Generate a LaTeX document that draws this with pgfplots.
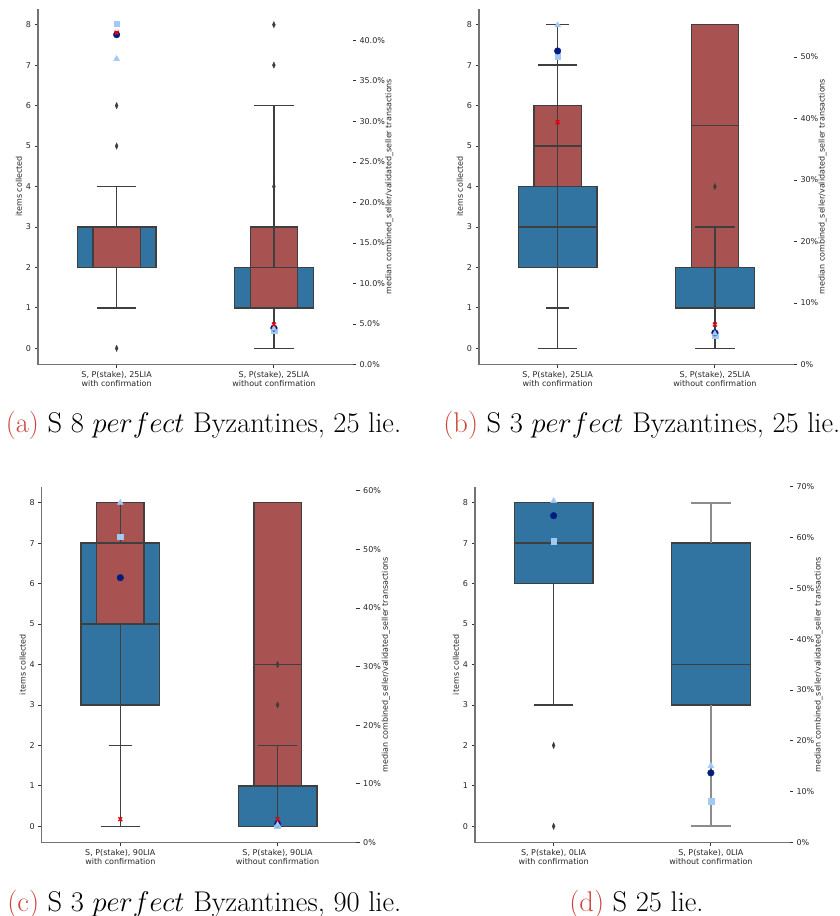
\RequirePackage{fix-cm}
\documentclass[border=0pt]{standalone}
\usepackage{fontspec}
\usepackage{pgfplots}
\pgfplotsset{compat=1.18}
\usepgfplotslibrary{statistics}
\newfontfamily\dejavu{DejaVu Sans}
\newcommand{\tf}{\dejavu\fontsize{8}{9.3}\selectfont}
\definecolor{sbblue}{RGB}{50,116,161}
\definecolor{sbred}{RGB}{168,82,82}
\definecolor{edgegray}{RGB}{63,63,63}
\definecolor{fliergray}{RGB}{61,61,61}
\definecolor{pastelblue}{RGB}{161,201,244}
\definecolor{darkblue}{RGB}{0,28,127}
\definecolor{brightred}{RGB}{232,0,11}
\definecolor{caprd}{RGB}{205,70,60}
\pgfplotsset{
  base/.style={scale only axis, width=314.5pt, height=356pt, anchor=south west,
    xmin=-0.5, xmax=1.5, clip=false,
    tick align=outside, major tick length=3.5pt,
    tick style={black!80, line width=0.8pt},
    tick label style={font=\tf, color=black!85},
    label style={font=\tf, color=black!85},
    /pgf/number format/assume math mode=true},
  leftax/.style={base, ymin=-0.4, ymax=8.4,
    boxplot/draw direction=y,
    axis x line*=bottom, axis y line*=left,
    axis line style={-, draw=black!55, line width=1.2pt},
    ytick={0,1,2,3,4,5,6,7,8}, xtick={0,1},
    xticklabel style={align=center},
    ylabel={items collected},
    ylabel style={at={(axis description cs:-0.0604,0.5)}, anchor=center}},
  rightax/.style={base, ymin=0, hide x axis,
    axis y line*=right, y axis line style={draw=none},
    ylabel={median combined\_seller/validated\_seller transactions},
    ylabel style={anchor=center}},
  % pass 1: box patches only (matplotlib draws patches below lines)
  boxpass/.style={draw=edgegray, line width=1.3pt, solid, mark=none,
    boxplot/every whisker/.style={draw=none},
    boxplot/every median/.style={draw=none}},
  bfill/.style={boxpass, fill=sbblue},
  rfill/.style={boxpass, fill=sbred},
  % pass 2: whiskers, caps, medians and fliers
  lines/.style={draw=edgegray, fill=none, line width=1.3pt, solid,
    boxplot/every box/.style={draw=none, fill=none},
    mark=diamond*, mark size=2.8pt,
    mark options={fill=fliergray, draw=fliergray, line width=0.3pt, xscale=0.7, yscale=1.15}},
  msq/.style={only marks, mark=square*, mark size=2.9pt, color=pastelblue},
  mci/.style={only marks, mark=*, mark size=3.3pt, color=darkblue},
  mtr/.style={only marks, mark=triangle*, mark size=3.4pt, color=pastelblue},
  mx/.style={only marks, mark=x, mark size=2.7pt, color=brightred, line width=1.4pt},
}
% #1 style, #2 position, #3 lower whisker, #4 lower quartile, #5 median,
% #6 upper quartile, #7 upper whisker, #8 box width, #9 cap width
\newcommand{\BP}[9]{\addplot[#1, boxplot prepared={draw position=#2, lower whisker=#3,
  lower quartile=#4, median=#5, upper quartile=#6, upper whisker=#7,
  box extend=#8, whisker extend=#9}]}
\begin{document}
\begin{tikzpicture}
\path[use as bounding box] (0,0) rectangle (840pt,-916pt);
% ================= (a)
\begin{axis}[leftax, at={(38pt,-364.5pt)},
  xticklabels={{S, P(stake), 25LIA\\with confirmation},{S, P(stake), 25LIA\\without confirmation}}]
\BP{bfill}{0}{1}{2}{2}{3}{4}{0.5}{0.25} coordinates {};
\BP{bfill}{1}{0}{1}{2}{2}{3}{0.5}{0.25} coordinates {};
\BP{rfill}{0}{1}{2}{2}{3}{4}{0.3}{0.15} coordinates {};
\BP{rfill}{1}{0}{1}{2}{3}{6}{0.3}{0.25} coordinates {};
\BP{lines}{0}{1}{2}{2}{3}{4}{0.5}{0.25} table[row sep=\\, y index=0] {data\\0\\5\\6\\};
\BP{lines}{1}{0}{1}{2}{2}{3}{0.5}{0.25} table[row sep=\\, y index=0] {data\\4\\};
\BP{lines}{0}{1}{2}{2}{3}{4}{0.3}{0.15} coordinates {};
\BP{lines}{1}{0}{1}{2}{3}{6}{0.3}{0.25} table[row sep=\\, y index=0] {data\\7\\8\\};
\end{axis}
\begin{axis}[rightax, at={(38pt,-364.5pt)}, ymax=43.93,
  ytick={0,5,10,15,20,25,30,35,40},
  yticklabels={0.0\%,5.0\%,10.0\%,15.0\%,20.0\%,25.0\%,30.0\%,35.0\%,40.0\%},
  ylabel style={at={(axis description cs:1.117,0.5)}}]
\addplot[msq] coordinates {(0,42.06) (1,4.2)};
\addplot[mci] coordinates {(0,40.7) (1,4.5)};
\addplot[mtr] coordinates {(0,37.7) (1,4.4)};
\addplot[mx] coordinates {(0,40.95) (1,4.94)};
\end{axis}
% ================= (b)
\begin{axis}[leftax, at={(479pt,-364.5pt)},
  xticklabels={{S, P(stake), 25LIA\\with confirmation},{S, P(stake), 25LIA\\without confirmation}}]
\BP{bfill}{0}{0}{2}{3}{4}{7}{0.5}{0.25} coordinates {};
\BP{bfill}{1}{0}{1}{2}{2}{3}{0.5}{0.25} coordinates {};
\BP{rfill}{0}{1}{4}{5}{6}{8}{0.3}{0.15} coordinates {};
\BP{rfill}{1}{0}{2}{5.5}{8}{8}{0.3}{0.15} coordinates {};
\BP{lines}{0}{0}{2}{3}{4}{7}{0.5}{0.25} coordinates {};
\BP{lines}{1}{0}{1}{2}{2}{3}{0.5}{0.25} table[row sep=\\, y index=0] {data\\4\\};
\BP{lines}{0}{1}{4}{5}{6}{8}{0.3}{0.15} coordinates {};
\BP{lines}{1}{0}{2}{5.5}{8}{8}{0.3}{0.15} coordinates {};
\end{axis}
\begin{axis}[rightax, at={(479pt,-364.5pt)}, ymax=57.9,
  ytick={0,10,20,30,40,50},
  yticklabels={0\%,10\%,20\%,30\%,40\%,50\%},
  ylabel style={at={(axis description cs:1.092,0.5)}}]
\addplot[msq] coordinates {(0,50.2) (1,4.8)};
\addplot[mci] coordinates {(0,51.0) (1,5.16)};
\addplot[mtr] coordinates {(0,55.2) (1,5.0)};
\addplot[mx] coordinates {(0,39.4) (1,6.5)};
\end{axis}
% ================= (c)
\begin{axis}[leftax, at={(41.7pt,-842.5pt)},
  xticklabels={{S, P(stake), 90LIA\\with confirmation},{S, P(stake), 90LIA\\without confirmation}}]
\BP{bfill}{0}{0}{3}{5}{7}{8}{0.5}{0.25} coordinates {};
\BP{bfill}{1}{0}{0}{0}{1}{2}{0.5}{0.25} coordinates {};
\BP{rfill}{0}{2}{5}{7}{8}{8}{0.3}{0.15} coordinates {};
\BP{rfill}{1}{0}{1}{4}{8}{8}{0.3}{0.15} coordinates {};
\BP{lines}{0}{0}{3}{5}{7}{8}{0.5}{0.25} coordinates {};
\BP{lines}{1}{0}{0}{0}{1}{2}{0.5}{0.25} table[row sep=\\, y index=0] {data\\3\\4\\};
\BP{lines}{0}{2}{5}{7}{8}{8}{0.3}{0.15} coordinates {};
\BP{lines}{1}{0}{1}{4}{8}{8}{0.3}{0.15} coordinates {};
\end{axis}
\begin{axis}[rightax, at={(41.7pt,-842.5pt)}, ymax=60.7,
  ytick={0,10,20,30,40,50,60},
  yticklabels={0\%,10\%,20\%,30\%,40\%,50\%,60\%},
  ylabel style={at={(axis description cs:1.094,0.5)}}]
\addplot[msq] coordinates {(0,52.15) (1,2.95)};
\addplot[mci] coordinates {(0,45.15) (1,3.2)};
\addplot[mtr] coordinates {(0,57.95) (1,3.0)};
\addplot[mx] coordinates {(0,3.98) (1,3.98)};
\end{axis}
% ================= (d)
\begin{axis}[leftax, at={(475pt,-842.5pt)},
  xticklabels={{S, P(stake), 0LIA\\with confirmation},{S, P(stake), 0LIA\\without confirmation}}]
\BP{bfill}{0}{3}{6}{7}{8}{8}{0.5}{0.25} coordinates {};
\BP{bfill}{1}{0}{3}{4}{7}{8}{0.5}{0.25} coordinates {};
\BP{lines}{0}{3}{6}{7}{8}{8}{0.5}{0.25} table[row sep=\\, y index=0] {data\\0\\2\\};
\BP{lines, draw=black!45, line width=1.7pt, boxplot/every median/.style={draw=edgegray, line width=1.3pt}}{1}{0}{3}{4}{7}{8}{0.5}{0.25} coordinates {};
\end{axis}
\begin{axis}[rightax, at={(475pt,-842.5pt)}, ymax=70.04,
  ytick={0,10,20,30,40,50,60,70},
  yticklabels={0\%,10\%,20\%,30\%,40\%,50\%,60\%,70\%},
  ylabel style={at={(axis description cs:1.092,0.5)}}]
\addplot[msq] coordinates {(0,59.25) (1,8.13)};
\addplot[mci] coordinates {(0,64.3) (1,13.7)};
\addplot[mtr] coordinates {(0,67.2) (1,15.08)};
\end{axis}
% ================= captions
\begin{scope}[every node/.style={anchor=base, inner sep=0pt, font=\fontsize{28.5}{33}\selectfont}]
\node at (203.5pt,-432pt) {\textcolor{caprd}{(a)} S 8 $perfect$ Byzantines, 25 lie.};
\node at (641.8pt,-432pt) {\textcolor{caprd}{(b)} S 3 $perfect$ Byzantines, 25 lie.};
\node at (204.3pt,-911pt) {\textcolor{caprd}{(c)} S 3 $perfect$ Byzantines, 90 lie.};
\node at (636.5pt,-911pt) {\textcolor{caprd}{(d)} S 25 lie.};
\end{scope}
\end{tikzpicture}
\end{document}
